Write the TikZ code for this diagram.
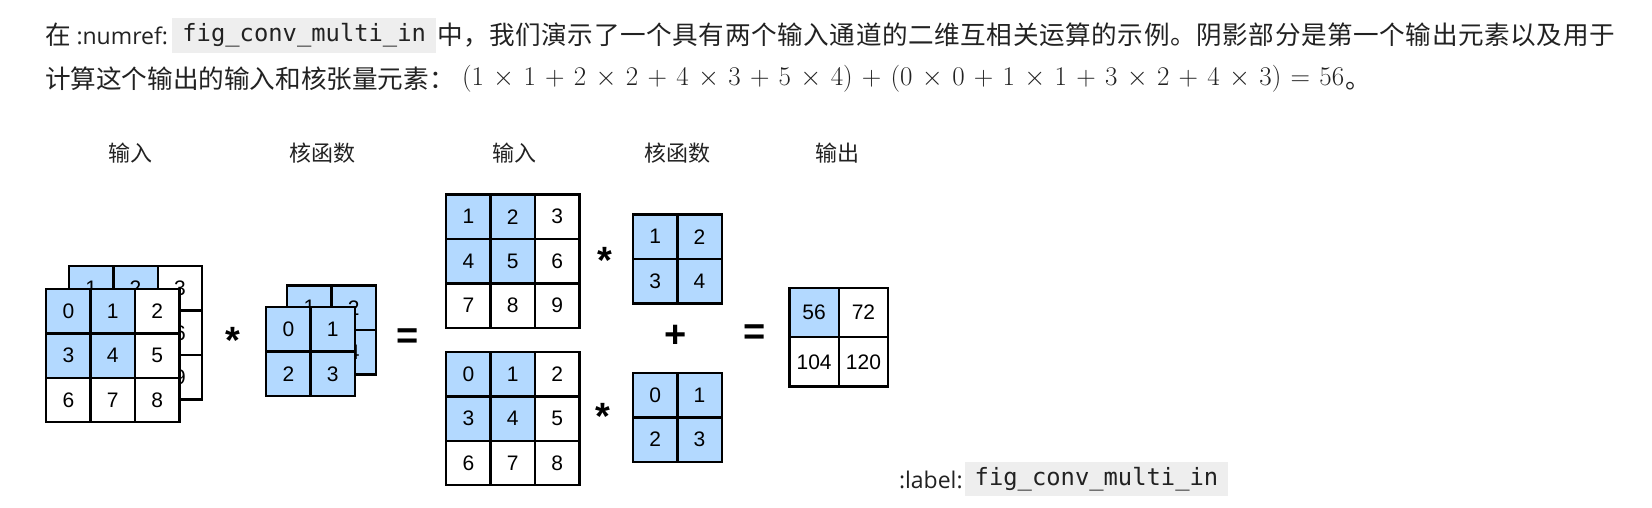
\RequirePackage{fix-cm}
\documentclass[tikz,border=0pt]{standalone}
\usepackage[no-math]{fontspec}
\setmainfont{Open Sans}
\newfontfamily\cjk{Noto Sans CJK SC}
\newfontfamily\cjkls{Noto Sans CJK SC}[LetterSpace=2.3]
\newfontfamily\arial{Liberation Sans}
\newfontfamily\codefont{DejaVu Sans Mono}
\definecolor{cellblue}{RGB}{179,217,255}
\definecolor{codebg}{RGB}{238,238,238}
\definecolor{inkc}{RGB}{34,34,34}
\tikzset{
  txt/.style={inner sep=0, outer sep=0, text=inkc, anchor=base west},
  cjkbody/.style={font=\cjk\fontsize{25.6}{30}\selectfont},
  latinbody/.style={font=\fontsize{23}{28}\selectfont},
  codebox/.style={fill=codebg, inner sep=0, minimum height=34.4, text=inkc,
    font=\codefont\fontsize{23.8}{28}\selectfont},
  header/.style={inner sep=0, text=inkc, font=\cjk\fontsize{22}{26}\selectfont},
  cell/.style={draw=black, line width=2.4pt, inner sep=0, text=black,
    font=\arial\fontsize{21}{24}\selectfont},
  sym/.style={inner sep=0, text=black, font=\arial\bfseries\fontsize{38}{40}\selectfont}
}
\newcommand\drawgrid[7]{%
  \foreach \v [count=\k from 0] in {#7} {%
    \pgfmathtruncatemacro\gr{floor(\k/#4)}%
    \pgfmathtruncatemacro\gc{mod(\k,#4)}%
    \pgfmathtruncatemacro\gs{and(\gr<#6,\gc<#6)}%
    \ifnum\gs=1 \def\gfill{cellblue}\else\def\gfill{white}\fi
    \node[cell, minimum size=#5, fill=\gfill] (#1-\gr-\gc) at ({#2+(\gc+0.5)*#5},{#3+(\gr+0.5)*#5}) {\v};
  }}
\begin{document}
\begin{tikzpicture}[x=1pt,y=-1pt]
\useasboundingbox (0,0) rectangle (1652,508);
\fill[white] (0,0) rectangle (1652,508);

% paragraph line 1
\node[txt, cjkbody] (l1a) at (45,45) {在};
\node[txt, latinbody] (l1b) at (76.5,45) {:numref:};
\node[codebox, minimum width=263.7] (l1code) at (304.2,35.5) {fig\_conv\_multi\_in};
\node[txt, font=\cjkls\fontsize{25.6}{30}\selectfont] (l1c) at (437,45) {中，我们演示了一个具有两个输入通道的二维互相关运算的示例。阴影部分是第一个输出元素以及用于};

% paragraph line 2
\node[txt, cjkbody] (l2a) at (45,88.5) {计算这个输出的输入和核张量元素：};
\node[txt, font=\fontsize{27}{32}\selectfont] (l2b) at (462,86)
  {\medmuskip=6.2mu \thickmuskip=6.2mu $(1\times1+2\times2+4\times3+5\times4)+(0\times0+1\times1+3\times2+4\times3)=56$};
\node[txt, cjkbody] (l2c) at ([xshift=1pt,yshift=-2.5pt]l2b.base east) {。};

% headers
\node[header] (h1) at (130,153.5) {输入};
\node[header] (h2) at (322.7,153.5) {核函数};
\node[header] (h3) at (514,153.5) {输入};
\node[header] (h4) at (677,153.5) {核函数};
\node[header] (h5) at (837.5,153.5) {输出};

% left: two-channel input and kernel
\drawgrid{inB}{68.9}{266.2}{3}{44.4}{2}{1,2,3,4,5,6,7,8,9}
\drawgrid{inF}{46.2}{288.9}{3}{44.4}{2}{0,1,2,3,4,5,6,7,8}
\drawgrid{kB}{287.2}{285.5}{2}{44.4}{2}{1,2,3,4}
\drawgrid{kF}{266.2}{307.2}{2}{44.4}{2}{0,1,2,3}
\node[sym] (ast0) at (233,340) {*};
\node[sym] (eq1) at (408,339) {=};

% middle: per-channel correlations
\drawgrid{inT}{446.2}{194.5}{3}{44.4}{2}{1,2,3,4,5,6,7,8,9}
\drawgrid{inD}{446.2}{351.9}{3}{44.4}{2}{0,1,2,3,4,5,6,7,8}
\drawgrid{kT}{632.9}{214.5}{2}{44.4}{2}{1,2,3,4}
\drawgrid{kD}{632.9}{372.9}{2}{44.4}{2}{0,1,2,3}
\node[sym] (ast1) at (605,260) {*};
\node[sym] (ast2) at (603,416.7) {*};
\node[sym] (plus) at (676,336) {+};
\node[sym] (eq2) at (755,335) {=};

% output
\drawgrid{out}{789.5}{287.9}{2}{49.3}{1}{56,72,104,120}

% label line
\node[txt, latinbody] (lab) at (899,488) {:label:};
\node[codebox, minimum width=263] (labcode) at (1096.5,479.2) {fig\_conv\_multi\_in};
\end{tikzpicture}
\end{document}
